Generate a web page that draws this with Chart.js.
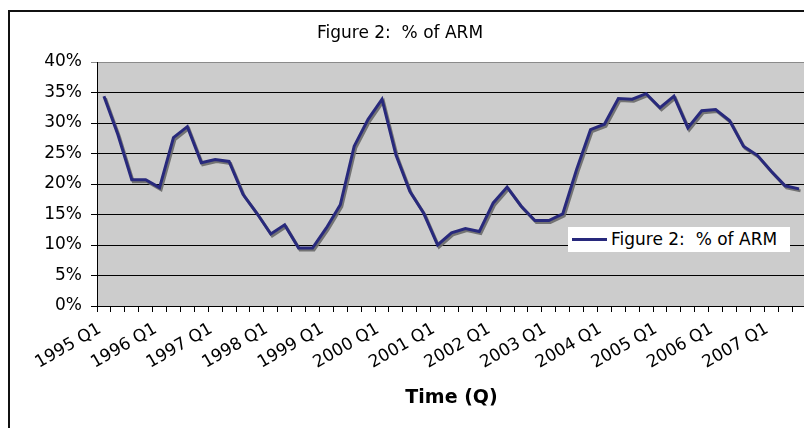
<!DOCTYPE html>
<html>
<head>
<meta charset="utf-8">
<script src="https://cdn.jsdelivr.net/npm/chart.js"></script>
<style>
  html, body { margin: 0; padding: 0; background: #fff; overflow: hidden; }
  body { font-family: "DejaVu Sans", Verdana, sans-serif; }
  #stage { position: absolute; left: 0; top: 0; width: 804px; height: 428px; overflow: hidden; }
  #frame { position: absolute; left: 8px; top: 10px; width: 900px; height: 600px; border: 2px solid #111; border-right: none; border-bottom: none; box-sizing: border-box; }
  #wrap { position: absolute; left: 0; top: 0; width: 806px; height: 428px; }
  #title { position: absolute; left: 0; top: 22px; width: 800px; text-align: center; font-size: 17px; white-space: pre; color: #000; }
  #legend { position: absolute; left: 568px; top: 227px; width: 222px; height: 25px; background: #fff; }
  #legend .swatch { position: absolute; left: 4px; top: 11px; width: 35px; height: 3px; background: #28297c; }
  #legend .text { position: absolute; left: 43px; top: 2px; font-size: 17px; white-space: pre; color: #000; }
</style>
</head>
<body>
<div id="stage">
  <div id="frame"></div>
  <div id="wrap"><canvas id="armChart"></canvas></div>
  <div id="title">Figure 2:  % of ARM</div>
  <div id="legend"><div class="swatch"></div><div class="text">Figure 2:  % of ARM</div></div>
</div>
<script>
const seriesName = "Figure 2:  % of ARM";

const quarters = [
  "1995 Q1", "1995 Q2", "1995 Q3", "1995 Q4",
  "1996 Q1", "1996 Q2", "1996 Q3", "1996 Q4",
  "1997 Q1", "1997 Q2", "1997 Q3", "1997 Q4",
  "1998 Q1", "1998 Q2", "1998 Q3", "1998 Q4",
  "1999 Q1", "1999 Q2", "1999 Q3", "1999 Q4",
  "2000 Q1", "2000 Q2", "2000 Q3", "2000 Q4",
  "2001 Q1", "2001 Q2", "2001 Q3", "2001 Q4",
  "2002 Q1", "2002 Q2", "2002 Q3", "2002 Q4",
  "2003 Q1", "2003 Q2", "2003 Q3", "2003 Q4",
  "2004 Q1", "2004 Q2", "2004 Q3", "2004 Q4",
  "2005 Q1", "2005 Q2", "2005 Q3", "2005 Q4",
  "2006 Q1", "2006 Q2", "2006 Q3", "2006 Q4",
  "2007 Q1", "2007 Q2", "2007 Q3",
];

// share of adjustable-rate mortgages, percent
const armShare = [
  34.4, 28.1, 20.7, 20.7,
  19.4, 27.6, 29.4, 23.5,
  24.0, 23.7, 18.3, 15.2,
  11.8, 13.3, 9.5, 9.5,
  12.8, 16.6, 26.2, 30.6,
  33.9, 24.8, 18.8, 15.2,
  10.0, 12.0, 12.7, 12.2,
  16.9, 19.5, 16.4, 14.0,
  14.0, 15.1, 22.4, 28.9,
  29.8, 34.0, 33.9, 34.8,
  32.5, 34.4, 29.2, 32.0,
  32.2, 30.4, 26.2, 24.7,
  22.1, 19.7, 19.2,
];

const yTicks = [0, 5, 10, 15, 20, 25, 30, 35, 40];

Chart.defaults.font.family = "'DejaVu Sans', Verdana, sans-serif";
Chart.defaults.color = "#000";

const plotBackground = {
  id: "plotBackground",
  beforeDraw(chart) {
    const { ctx, chartArea } = chart;
    ctx.save();
    ctx.fillStyle = "#cccccc";
    ctx.fillRect(chartArea.left, chartArea.top, chartArea.right - chartArea.left, chartArea.bottom - chartArea.top);
    ctx.restore();
  },
};

const lineShadow = {
  id: "lineShadow",
  beforeDatasetsDraw(chart) {
    const ctx = chart.ctx;
    ctx.save();
    ctx.shadowColor = "rgba(105, 105, 105, 0.9)";
    ctx.shadowOffsetX = 1.5;
    ctx.shadowOffsetY = 2;
    ctx.shadowBlur = 0;
  },
  afterDatasetsDraw(chart) {
    chart.ctx.restore();
  },
};

new Chart(document.getElementById("armChart"), {
  type: "line",
  data: {
    labels: quarters,
    datasets: [
      {
        label: seriesName,
        data: armShare,
        borderColor: "#28297c",
        borderWidth: 3,
        pointRadius: 0,
        tension: 0,
        fill: false,
      },
    ],
  },
  options: {
    responsive: true,
    maintainAspectRatio: false,
    animation: false,
    layout: { padding: { top: 62, left: 0, right: 0, bottom: 0 } },
    plugins: {
      legend: { display: false },
      title: { display: false },
      tooltip: { enabled: false },
    },
    scales: {
      x: {
        type: "category",
        offset: true,
        grid: {
          offset: true,
          drawOnChartArea: false,
          drawTicks: true,
          tickLength: 6,
          color: "#000",
        },
        border: { display: true, color: "#000", width: 1 },
        ticks: {
          autoSkip: false,
          maxRotation: 30,
          minRotation: 30,
          padding: 7,
          labelOffset: -4,
          font: { size: 17 },
          callback: (value, index) => (index % 4 === 0 ? quarters[index] : ""),
        },
        title: {
          display: true,
          text: "Time (Q)",
          font: { size: 19, weight: "bold" },
          padding: { top: 4, bottom: 19 },
        },
        afterFit: (scale) => {
          scale.height = 122;
          scale.paddingLeft = 0;
          scale.paddingRight = 0;
        },
      },
      y: {
        min: 0,
        max: 40,
        afterBuildTicks: (scale) => {
          scale.ticks = yTicks.map((v) => ({ value: v }));
        },
        grid: {
          color: (ctx) => (ctx.tick && ctx.tick.value === 40 ? "#8a8a8a" : "#000"),
          lineWidth: 1,
          tickLength: 6,
        },
        border: { display: true, color: "#000", width: 1 },
        ticks: {
          padding: 9,
          font: { size: 17 },
          callback: (value) => `${value}%`,
        },
        afterFit: (scale) => {
          scale.width = 97;
        },
      },
    },
  },
  plugins: [plotBackground, lineShadow],
});
</script>
</body>
</html>
